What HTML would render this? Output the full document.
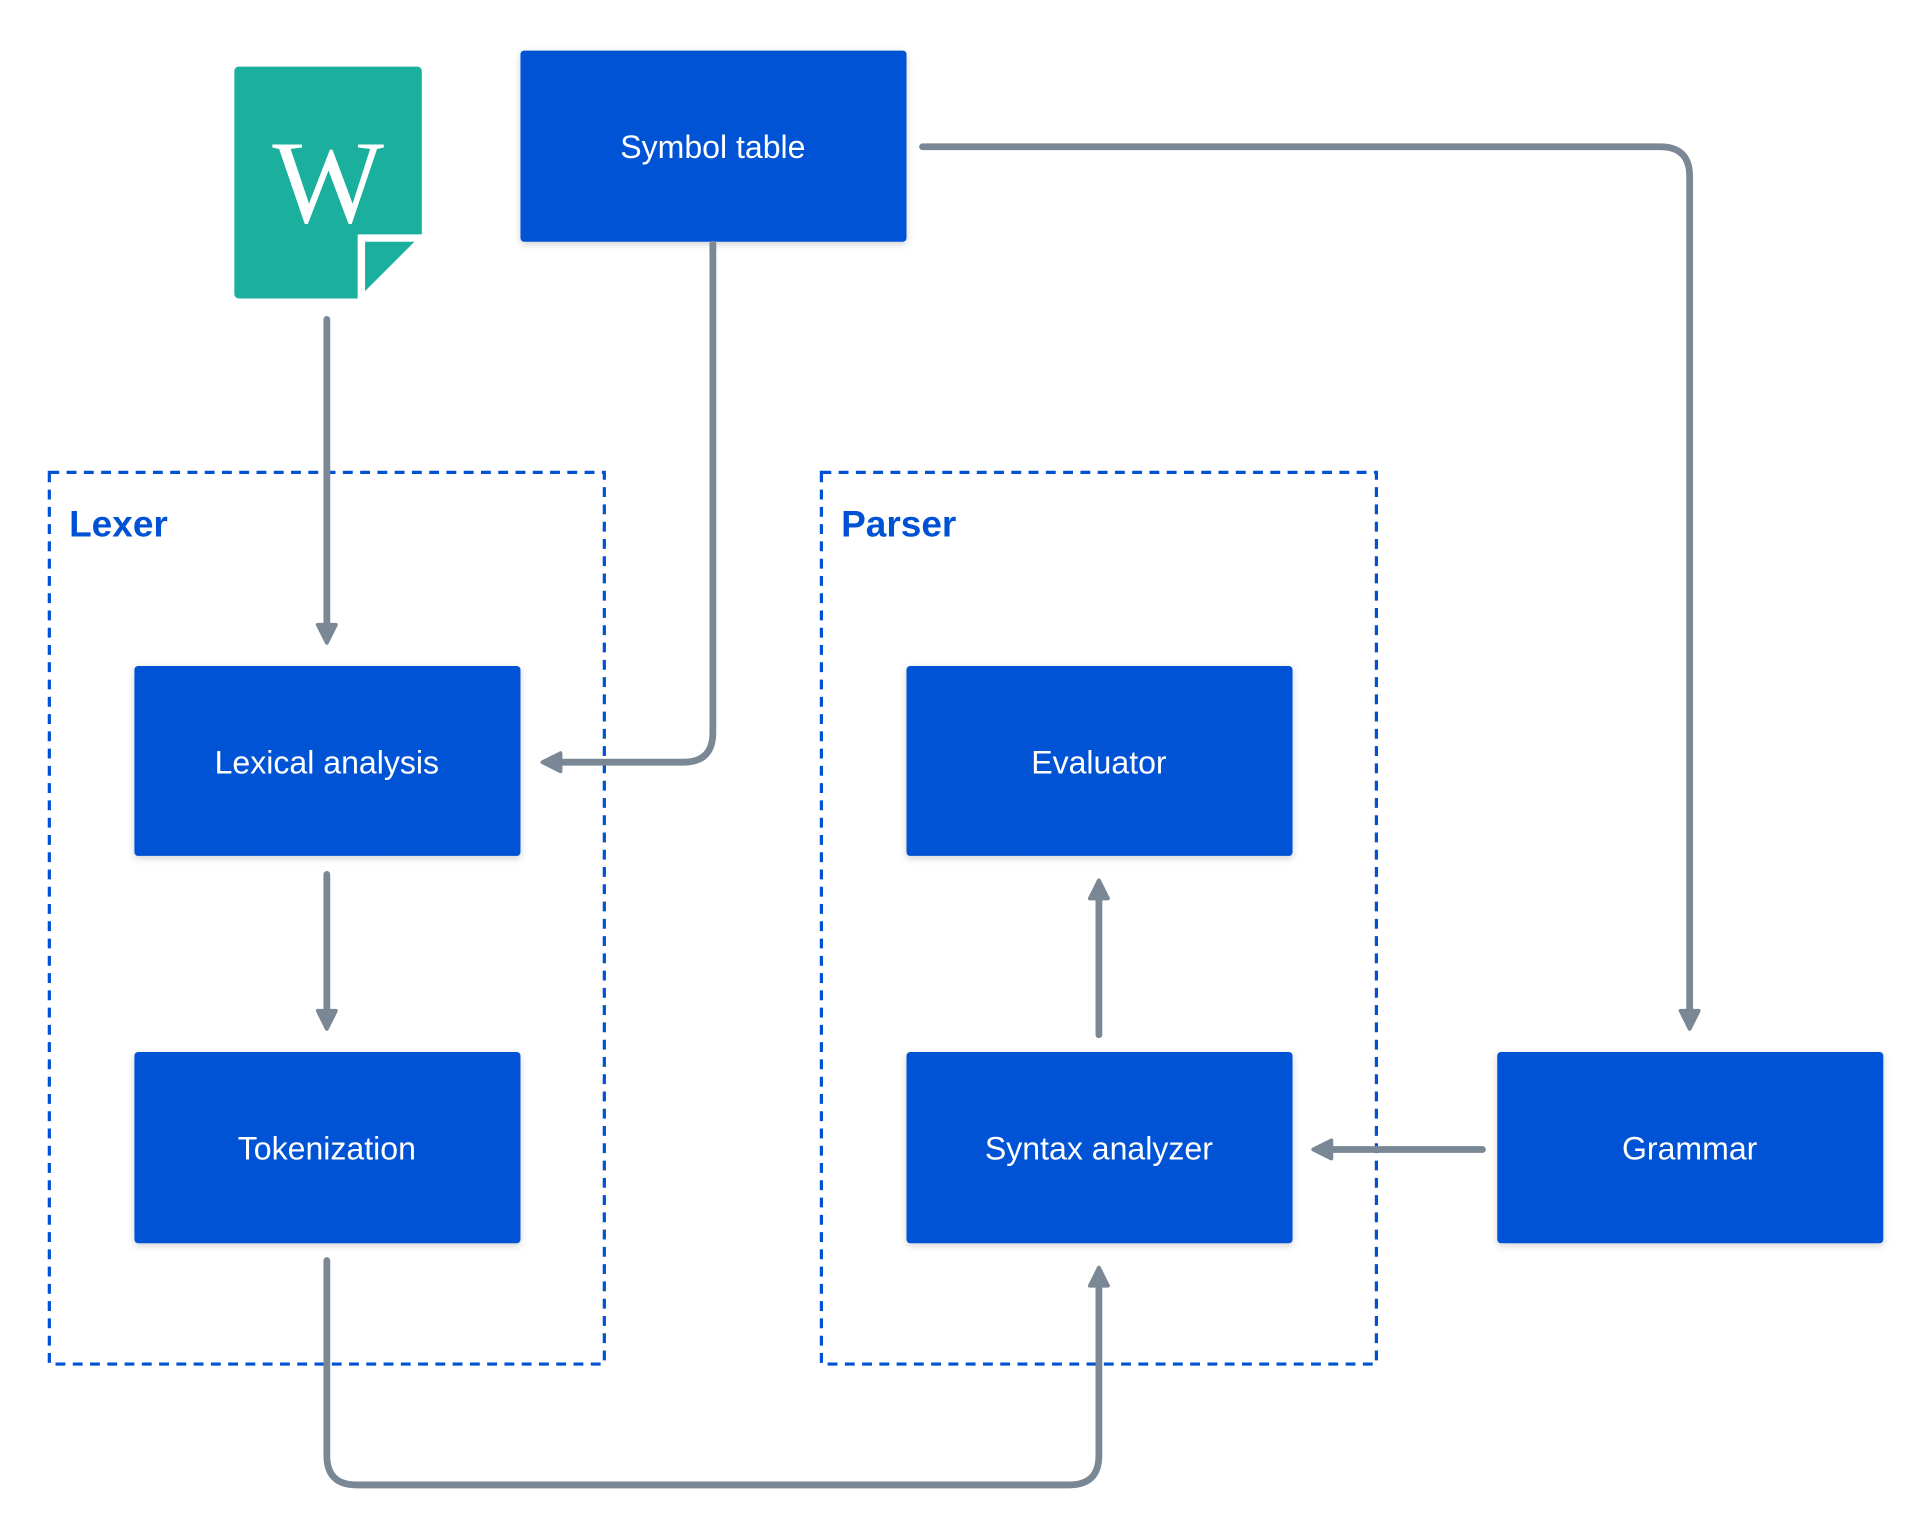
<!DOCTYPE html>
<html><head><meta charset="utf-8"><style>
html,body{margin:0;padding:0;background:#fff;}
svg{display:block;}
text{font-family:"Liberation Sans",sans-serif;}
</style></head><body>
<svg width="1924" height="1536" viewBox="0 0 1560 1245.4" xmlns="http://www.w3.org/2000/svg">
<defs>
<filter id="sh" x="-10%" y="-10%" width="120%" height="130%"><feDropShadow dx="0" dy="2" stdDeviation="3" flood-color="#000" flood-opacity="0.18"/></filter>
<marker id="ar" viewBox="0 0 10 10" refX="6" refY="5" markerWidth="3.8" markerHeight="3.8" orient="auto" markerUnits="strokeWidth">
<path d="M1,1.5 L8,5 L1,8.5 Z" fill="#7a8795" stroke="#7a8795" stroke-width="1.5" stroke-linejoin="round"/>
</marker>
</defs>
<rect x="40" y="383" width="450" height="723" fill="none" stroke="#0052d4" stroke-width="2.6" stroke-dasharray="8,6"/>
<rect x="666" y="383" width="450" height="723" fill="none" stroke="#0052d4" stroke-width="2.6" stroke-dasharray="8,6"/>
<text x="56" y="435" font-size="30" font-weight="bold" fill="#0052d4">Lexer</text>
<text x="682" y="435" font-size="30" font-weight="bold" fill="#0052d4">Parser</text>
<path d="M194,54 H338 Q342,54 342,58 V190 H290 V242 H194 Q190,242 190,238 V58 Q190,54 194,54 Z" fill="#1baf9e"/>
<path d="M296,196 H336 L296,236 Z" fill="#1baf9e"/>
<text x="266" y="180" font-size="96" text-anchor="middle" fill="#fff" style="font-family:'Liberation Serif',serif">W</text>
<g filter="url(#sh)" fill="#0052d4">
<rect x="422" y="41" width="313" height="155" rx="3"/>
<rect x="109" y="540" width="313" height="154" rx="3"/>
<rect x="109" y="853" width="313" height="155" rx="3"/>
<rect x="735" y="540" width="313" height="154" rx="3"/>
<rect x="735" y="853" width="313" height="155" rx="3"/>
<rect x="1214" y="853" width="313" height="155" rx="3"/>
</g>
<g fill="#fff" font-size="26" text-anchor="middle">
<text x="578" y="128">Symbol table</text>
<text x="265" y="627">Lexical analysis</text>
<text x="265" y="940">Tokenization</text>
<text x="891" y="627">Evaluator</text>
<text x="891" y="940">Syntax analyzer</text>
<text x="1370" y="940">Grammar</text>
</g>
<g fill="none" stroke="#7a8795" stroke-width="5.5" stroke-linecap="round" stroke-linejoin="round">
<path d="M265,259 V517" marker-end="url(#ar)"/>
<path d="M578,198 V594 Q578,618 554,618 H444" marker-end="url(#ar)"/>
<path d="M748,119 H1346 Q1370,119 1370,143 V830" marker-end="url(#ar)"/>
<path d="M265,709 V830" marker-end="url(#ar)"/>
<path d="M891,839 V718" marker-end="url(#ar)"/>
<path d="M1202,932 H1069" marker-end="url(#ar)"/>
<path d="M265,1022 V1180 Q265,1204 289,1204 H867 Q891,1204 891,1180 V1032" marker-end="url(#ar)"/>
</g>
</svg>
</body></html>
